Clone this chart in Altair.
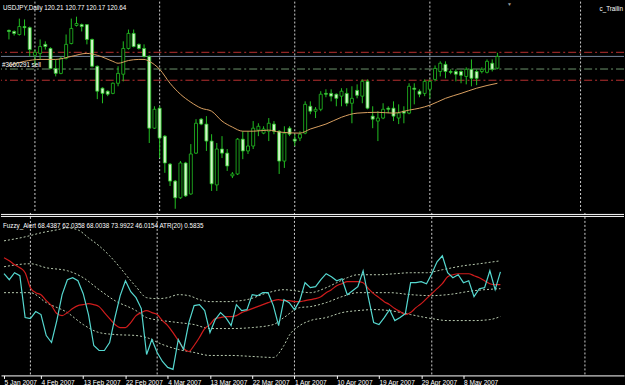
import altair as alt
import pandas as pd

# ---------------- data ----------------
# USDJPY daily candles (bar index 0 .. 94)
bar_open = [121.59, 121.55, 121.44, 121.73, 121.69, 120.68, 120.75, 121.08, 120.93, 120.20,
            120.02, 120.57, 121.11, 121.77, 121.80, 121.80, 121.26, 120.28, 119.48, 119.37,
            119.29, 119.66, 119.99, 120.93, 121.48, 121.08, 120.93, 120.64, 118.02, 118.75,
            117.73, 116.71, 116.09, 115.48, 116.75, 115.62, 117.11, 118.35, 118.17, 117.55,
            115.95, 117.26, 117.11, 116.28, 116.35, 117.62, 117.19, 117.37, 117.95, 117.84,
            117.91, 118.17, 117.91, 116.82, 118.02, 117.62, 117.66, 117.84, 118.82, 118.64,
            118.71, 119.29, 119.29, 119.26, 119.19, 119.29, 118.93, 119.40, 119.19, 119.73,
            118.46, 118.28, 118.39, 118.75, 118.75, 118.39, 118.64, 118.57, 119.48, 119.37,
            119.29, 119.44, 119.80, 120.09, 120.35, 120.09, 120.09, 120.09, 119.91, 120.17,
            120.09, 120.09, 120.06, 120.39, 120.21]
bar_close = [121.55, 121.48, 121.73, 121.69, 120.89, 120.79, 121.00, 121.00, 120.20, 120.02,
             120.57, 121.08, 121.66, 121.84, 121.73, 121.26, 120.28, 119.37, 119.29, 119.26,
             119.66, 120.02, 120.93, 121.48, 121.00, 120.93, 120.64, 118.02, 118.71, 117.66,
             116.75, 116.09, 115.48, 116.75, 115.55, 117.08, 118.20, 118.17, 117.55, 115.99,
             117.26, 117.11, 116.64, 116.35, 117.62, 117.19, 117.37, 118.02, 118.09, 117.99,
             118.20, 117.91, 116.82, 117.84, 117.80, 117.55, 117.80, 118.89, 118.64, 118.71,
             119.26, 119.26, 119.19, 119.11, 119.37, 118.93, 119.11, 119.22, 119.73, 118.75,
             118.35, 118.39, 118.71, 118.71, 118.46, 118.57, 118.57, 119.55, 119.44, 119.26,
             119.73, 119.73, 120.20, 120.39, 120.09, 120.06, 119.99, 119.95, 120.17, 119.84,
             119.84, 120.17, 120.46, 120.17, 120.64]
bar_high = [121.62, 121.59, 122.02, 121.99, 121.73, 120.89, 121.26, 121.19, 120.97, 120.53,
            120.64, 121.44, 122.02, 122.09, 121.84, 121.80, 121.29, 120.31, 119.51, 119.40,
            119.69, 120.28, 121.19, 121.62, 121.62, 121.11, 121.08, 120.68, 118.82, 118.82,
            117.77, 116.75, 116.13, 116.82, 116.79, 117.44, 118.35, 118.39, 118.46, 117.80,
            117.48, 117.73, 117.26, 116.42, 117.66, 117.91, 117.91, 118.28, 118.20, 118.09,
            118.39, 118.28, 117.95, 118.09, 118.09, 117.80, 117.91, 119.00, 119.00, 118.79,
            119.37, 119.44, 119.44, 119.29, 119.48, 119.48, 119.55, 119.62, 119.80, 119.80,
            118.82, 118.64, 118.93, 118.82, 119.00, 118.89, 118.82, 119.66, 119.66, 119.44,
            119.80, 119.80, 120.31, 120.46, 120.46, 120.17, 120.17, 120.13, 120.24, 120.53,
            120.17, 120.24, 120.53, 120.53, 120.77]
bar_low = [121.26, 121.40, 121.40, 121.40, 120.64, 120.31, 120.53, 120.89, 120.17, 119.91,
           119.99, 120.53, 121.08, 121.73, 121.55, 121.08, 120.24, 119.08, 118.93, 119.19,
           119.26, 119.55, 119.73, 120.89, 120.97, 120.89, 120.60, 117.48, 117.99, 116.93,
           116.39, 115.91, 115.08, 115.44, 115.51, 115.59, 117.08, 118.13, 117.19, 115.73,
           115.73, 116.93, 116.46, 116.20, 116.31, 116.89, 117.08, 117.26, 117.73, 117.80,
           117.55, 117.80, 116.35, 116.57, 117.73, 117.37, 117.55, 117.80, 118.53, 118.39,
           118.64, 119.15, 119.00, 118.82, 118.82, 118.82, 118.20, 119.11, 118.93, 118.71,
           118.02, 117.55, 118.35, 118.57, 118.28, 118.17, 118.20, 118.53, 118.89, 119.15,
           119.19, 119.11, 119.73, 119.91, 119.84, 119.99, 119.73, 119.66, 119.62, 119.55,
           119.59, 120.02, 120.02, 120.09, 120.17]

# moving average (orange line), read at these bars
ma_bar = [0, 3, 6, 9, 12, 15, 17, 20, 21, 23, 25, 26, 27, 29, 31, 33, 35, 37, 39, 41,
          43, 45, 47, 50, 52, 56, 58, 61, 64, 67, 71, 74, 77, 79, 81, 84, 87, 90, 94]
ma_val = [120.31, 120.46, 120.53, 120.53, 120.64, 120.75, 120.68, 120.46, 120.39, 120.49,
          120.53, 120.53, 120.46, 120.17, 119.66, 119.26, 118.97, 118.75, 118.64, 118.28,
          118.06, 117.91, 117.91, 117.95, 117.88, 117.84, 117.99, 118.17, 118.42, 118.57,
          118.60, 118.57, 118.68, 118.75, 118.86, 119.11, 119.29, 119.48, 119.66]

# horizontal order / price lines
level_price = [120.79, 120.64, 120.18, 119.77]
level_kind = ["stop", "bid", "open", "stop"]

# month separators (bar positions)
sep_bars = [5, 29, 55, 81, 110]

# date labels
label_bars = [0, 7, 15, 23, 31, 39, 47, 55, 63, 71, 79, 87]
label_text = ["5 Jan 2007", "4 Feb 2007", "13 Feb 2007", "22 Feb 2007", "4 Mar 2007",
              "13 Mar 2007", "22 Mar 2007", "1 Apr 2007", "10 Apr 2007", "19 Apr 2007",
              "29 Apr 2007", "8 May 2007"]

# indicator window
fuzzy_main = [67.5, 64.5, 68.0, 66.5, 45.5, 45.0, 48.5, 47.0, 36.5, 33.0,
              44.0, 57.0, 64.5, 65.5, 64.0, 57.5, 47.0, 31.5, 29.0, 29.0,
              33.0, 45.5, 56.5, 64.0, 58.5, 55.5, 50.0, 27.0, 34.5, 28.0,
              23.5, 20.5, 19.5, 34.5, 29.5, 43.0, 51.5, 52.0, 49.0, 38.0,
              44.5, 48.0, 45.5, 41.5, 52.0, 49.0, 49.5, 57.0, 56.5, 58.0,
              58.0, 51.5, 41.5, 54.5, 53.0, 49.5, 54.0, 63.0, 60.5, 61.0,
              64.5, 67.5, 66.0, 64.0, 65.0, 57.0, 59.0, 61.0, 69.0, 55.5,
              43.0, 42.0, 45.5, 49.5, 44.0, 45.5, 47.5, 63.0, 63.0, 63.5,
              62.5, 67.5, 73.5, 76.5, 68.0, 65.5, 67.0, 63.0, 64.0, 56.0,
              60.0, 60.5, 69.0, 59.5, 68.44]
fuzzy_signal = [75.5, 74.0, 72.0, 70.5, 68.0, 60.5, 58.0, 57.0, 54.0, 51.5,
                47.5, 46.5, 48.0, 50.0, 51.5, 52.0, 52.5, 52.0, 51.0, 48.0,
                45.0, 42.0, 40.5, 40.5, 43.0, 46.5, 48.0, 49.0, 48.0, 47.0,
                44.0, 41.5, 38.0, 34.0, 30.0, 28.5, 31.5, 35.5, 40.0, 42.0,
                45.0, 45.5, 46.0, 46.0, 46.5, 48.0, 49.0, 50.0, 51.0, 52.0,
                53.0, 54.0, 54.5, 54.0, 54.0, 53.5, 53.5, 54.0, 54.5, 55.0,
                56.0, 58.0, 59.5, 61.5, 62.5, 63.5, 63.5, 63.5, 63.0, 60.0,
                57.5, 55.5, 53.5, 52.0, 50.0, 48.5, 47.0, 48.0, 50.5, 52.5,
                55.0, 57.5, 60.0, 62.5, 66.0, 67.0, 67.5, 67.5, 67.5, 66.5,
                65.5, 64.0, 62.5, 62.0, 62.04]

upper_bar = [0, 4, 7, 10, 12, 14, 16, 18, 20, 22, 24, 25, 27, 29, 31, 33, 35, 37, 39, 42,
             46, 50, 53, 55, 58, 61, 63, 65, 67, 71, 74, 77, 80, 83, 87, 90, 94]
upper_val = [84.0, 86.0, 88.0, 89.5, 90.5, 89.5, 85.5, 81.5, 76.5, 70.5,
             64.0, 61.0, 55.5, 55.0, 55.5, 57.0, 56.5, 54.5, 53.5, 53.5,
             54.5, 58.0, 59.5, 59.0, 58.0, 60.5, 63.0, 65.5, 67.0, 67.0,
             67.5, 68.0, 68.0, 69.5, 71.5, 72.5, 73.99]
mid_bar = [0, 5, 8, 12, 15, 18, 21, 25, 27, 30, 33, 36, 39, 43, 47, 51, 53, 56, 58, 61,
           64, 67, 70, 73, 77, 81, 84, 89, 94]
mid_val = [71.0, 72.5, 70.5, 69.0, 65.5, 59.5, 54.0, 49.0, 45.5, 44.0,
           43.0, 42.0, 40.0, 40.0, 40.5, 42.0, 45.5, 50.5, 51.0, 53.0,
           56.0, 58.0, 58.0, 58.0, 57.0, 56.5, 57.0, 59.0, 60.0]
lower_bar = [0, 5, 8, 12, 15, 18, 21, 25, 27, 30, 33, 36, 39, 43, 47, 51, 53, 54, 56, 58,
             61, 64, 67, 70, 73, 77, 81, 84, 89, 92, 94]
lower_val = [58.0, 58.0, 53.0, 48.0, 42.0, 38.0, 37.0, 36.5, 35.5, 32.0,
             29.5, 28.0, 26.5, 26.5, 26.0, 25.5, 31.5, 36.5, 41.5, 44.0,
             45.5, 48.0, 49.0, 49.5, 49.0, 47.0, 45.0, 44.0, 44.0, 44.5, 46.02]

price_header = "USDJPY,Daily  120.21 120.77 120.17 120.64"
ind_header = "Fuzzy_Alert 68.4387 62.0358 68.0038 73.9922 46.0154   ATR(20) 0.5835"
order_label = "#3660291 sell"
expert_label = "c_Trailin"

# ---------------- styling ----------------
FONT = "Liberation Sans"
GREEN = "#22c022"
BEAR_FILL = "#d2f5c8"
W = 625
H_TOP = 210
H_BOT = 163

xs = alt.Scale(domain=[-0.57, 117.4], nice=False, zero=False)
ps = alt.Scale(domain=[115.0, 122.64], nice=False, zero=False)
vs = alt.Scale(domain=[16.49, 97.99], nice=False, zero=False)

label_expr = "[" + ",".join("'%s'" % t for t in label_text) + "][indexof([" + \
    ",".join(str(b) for b in label_bars) + "], datum.value)]"
x_axis_bottom = alt.Axis(values=label_bars, labelExpr=label_expr, labelAlign="left",
                         labelColor="white", labelFont=FONT, labelFontSize=6.6,
                         labelPadding=1, tickColor="white", tickSize=3,
                         domainColor="white", domainWidth=1, grid=False, title=None,
                         labelOverlap=False, labelBound=False, labelFlush=False)

candles = pd.DataFrame({"bar": list(range(len(bar_open))), "open": bar_open,
                        "high": bar_high, "low": bar_low, "close": bar_close})
ma_df = pd.DataFrame({"bar": ma_bar, "ma": ma_val})
levels = pd.DataFrame({"price": level_price, "kind": level_kind})
seps = pd.DataFrame({"bar": sep_bars})
ind = pd.DataFrame({"bar": list(range(len(fuzzy_main))), "main": fuzzy_main,
                    "signal": fuzzy_signal})
upper_df = pd.DataFrame({"bar": upper_bar, "v": upper_val})
mid_df = pd.DataFrame({"bar": mid_bar, "v": mid_val})
lower_df = pd.DataFrame({"bar": lower_bar, "v": lower_val})

# ---------------- top (price) window ----------------
sep_top = alt.Chart(seps).mark_rule(color="#cfcfcf", strokeDash=[2, 2], strokeWidth=1).encode(
    x=alt.X("bar:Q", scale=xs, axis=None))

stop_lines = alt.Chart(levels).transform_filter("datum.kind == 'stop'").mark_rule(
    color="#b83030", strokeDash=[8, 3, 2, 3], strokeWidth=1).encode(
    y=alt.Y("price:Q", scale=ps, axis=None))
open_line = alt.Chart(levels).transform_filter("datum.kind == 'open'").mark_rule(
    color="#6c946c", strokeDash=[8, 3, 2, 3], strokeWidth=1).encode(
    y=alt.Y("price:Q", scale=ps, axis=None))
bid_line = alt.Chart(levels).transform_filter("datum.kind == 'bid'").mark_rule(
    color="#74849a", strokeWidth=1).encode(
    y=alt.Y("price:Q", scale=ps, axis=None))
order_text = alt.Chart(levels).transform_filter("datum.kind == 'open'").transform_calculate(
    t="'" + order_label + "'").mark_text(
    align="left", baseline="bottom", dy=-1, color="white", font=FONT, fontSize=6.3).encode(
    x=alt.value(1), y=alt.Y("price:Q", scale=ps, axis=None), text="t:N")

wicks = alt.Chart(candles).mark_rule(color=GREEN, strokeWidth=1).encode(
    x=alt.X("bar:Q", scale=xs, axis=None),
    y=alt.Y("low:Q", scale=ps, axis=None), y2="high:Q")
bodies = alt.Chart(candles).mark_bar(size=3, stroke=GREEN, strokeWidth=0.8).encode(
    x=alt.X("bar:Q", scale=xs, axis=None),
    y=alt.Y("open:Q", scale=ps, axis=None), y2="close:Q",
    fill=alt.condition("datum.close >= datum.open", alt.value("black"), alt.value(BEAR_FILL)))
ma_line = alt.Chart(ma_df).mark_line(color="#d9a060", strokeWidth=1, interpolate="monotone").encode(
    x=alt.X("bar:Q", scale=xs, axis=None), y=alt.Y("ma:Q", scale=ps, axis=None))

hdr = alt.Chart(pd.DataFrame({"t": [price_header]})).mark_text(
    align="left", baseline="middle", color="white", font=FONT, fontSize=6.3).encode(
    x=alt.value(2), y=alt.value(6), text="t:N")
exp_txt = alt.Chart(pd.DataFrame({"t": [expert_label]})).mark_text(
    align="right", baseline="middle", color="white", font=FONT, fontSize=6.3).encode(
    x=alt.value(W - 1), y=alt.value(7), text="t:N")
shift_mark = alt.Chart(pd.DataFrame({"t": ["\u25bc"]})).mark_text(
    align="center", baseline="top", color="#9a9a9a", font=FONT, fontSize=5).encode(
    x=alt.value(510), y=alt.value(0), text="t:N")

top = alt.layer(sep_top, stop_lines, open_line, bid_line, wicks, bodies, ma_line,
                order_text, hdr, exp_txt, shift_mark).properties(width=W, height=H_TOP)

# ---------------- bottom (indicator) window ----------------
sep_bot = alt.Chart(seps).mark_rule(color="#cfcfcf", strokeDash=[2, 2], strokeWidth=1).encode(
    x=alt.X("bar:Q", scale=xs, axis=x_axis_bottom))
frame_df = pd.DataFrame({"k": [0]})
frame1 = alt.Chart(frame_df).mark_rule(color="white", strokeWidth=1).encode(
    x=alt.value(0), x2=alt.value(W), y=alt.value(1.5))
frame2 = alt.Chart(frame_df).mark_rule(color="white", strokeWidth=1).encode(
    x=alt.value(0), x2=alt.value(W), y=alt.value(3.5))

def band(df):
    return alt.Chart(df).mark_line(color="#b9cbb0", strokeDash=[2, 2], strokeWidth=1,
                                   interpolate="monotone").encode(
        x=alt.X("bar:Q", scale=xs, axis=x_axis_bottom),
        y=alt.Y("v:Q", scale=vs, axis=None))

sig_line = alt.Chart(ind).mark_line(color="#d01c1c", strokeWidth=1.2, interpolate="monotone").encode(
    x=alt.X("bar:Q", scale=xs, axis=x_axis_bottom), y=alt.Y("signal:Q", scale=vs, axis=None))
main_line = alt.Chart(ind).mark_line(color="#55d8d0", strokeWidth=1.2).encode(
    x=alt.X("bar:Q", scale=xs, axis=x_axis_bottom), y=alt.Y("main:Q", scale=vs, axis=None))
ind_hdr = alt.Chart(pd.DataFrame({"t": [ind_header]})).mark_text(
    align="left", baseline="middle", color="white", font=FONT, fontSize=6.3).encode(
    x=alt.value(2), y=alt.value(13), text="t:N")

bottom = alt.layer(sep_bot, frame1, frame2, band(upper_df), band(mid_df), band(lower_df),
                   sig_line, main_line, ind_hdr).properties(width=W, height=H_BOT)

chart = alt.vconcat(top, bottom, spacing=0).properties(
    background="black", padding=0).configure_view(stroke=None, fill="black")

chart.save("out.html", embed_options={"renderer": "svg", "actions": False})
